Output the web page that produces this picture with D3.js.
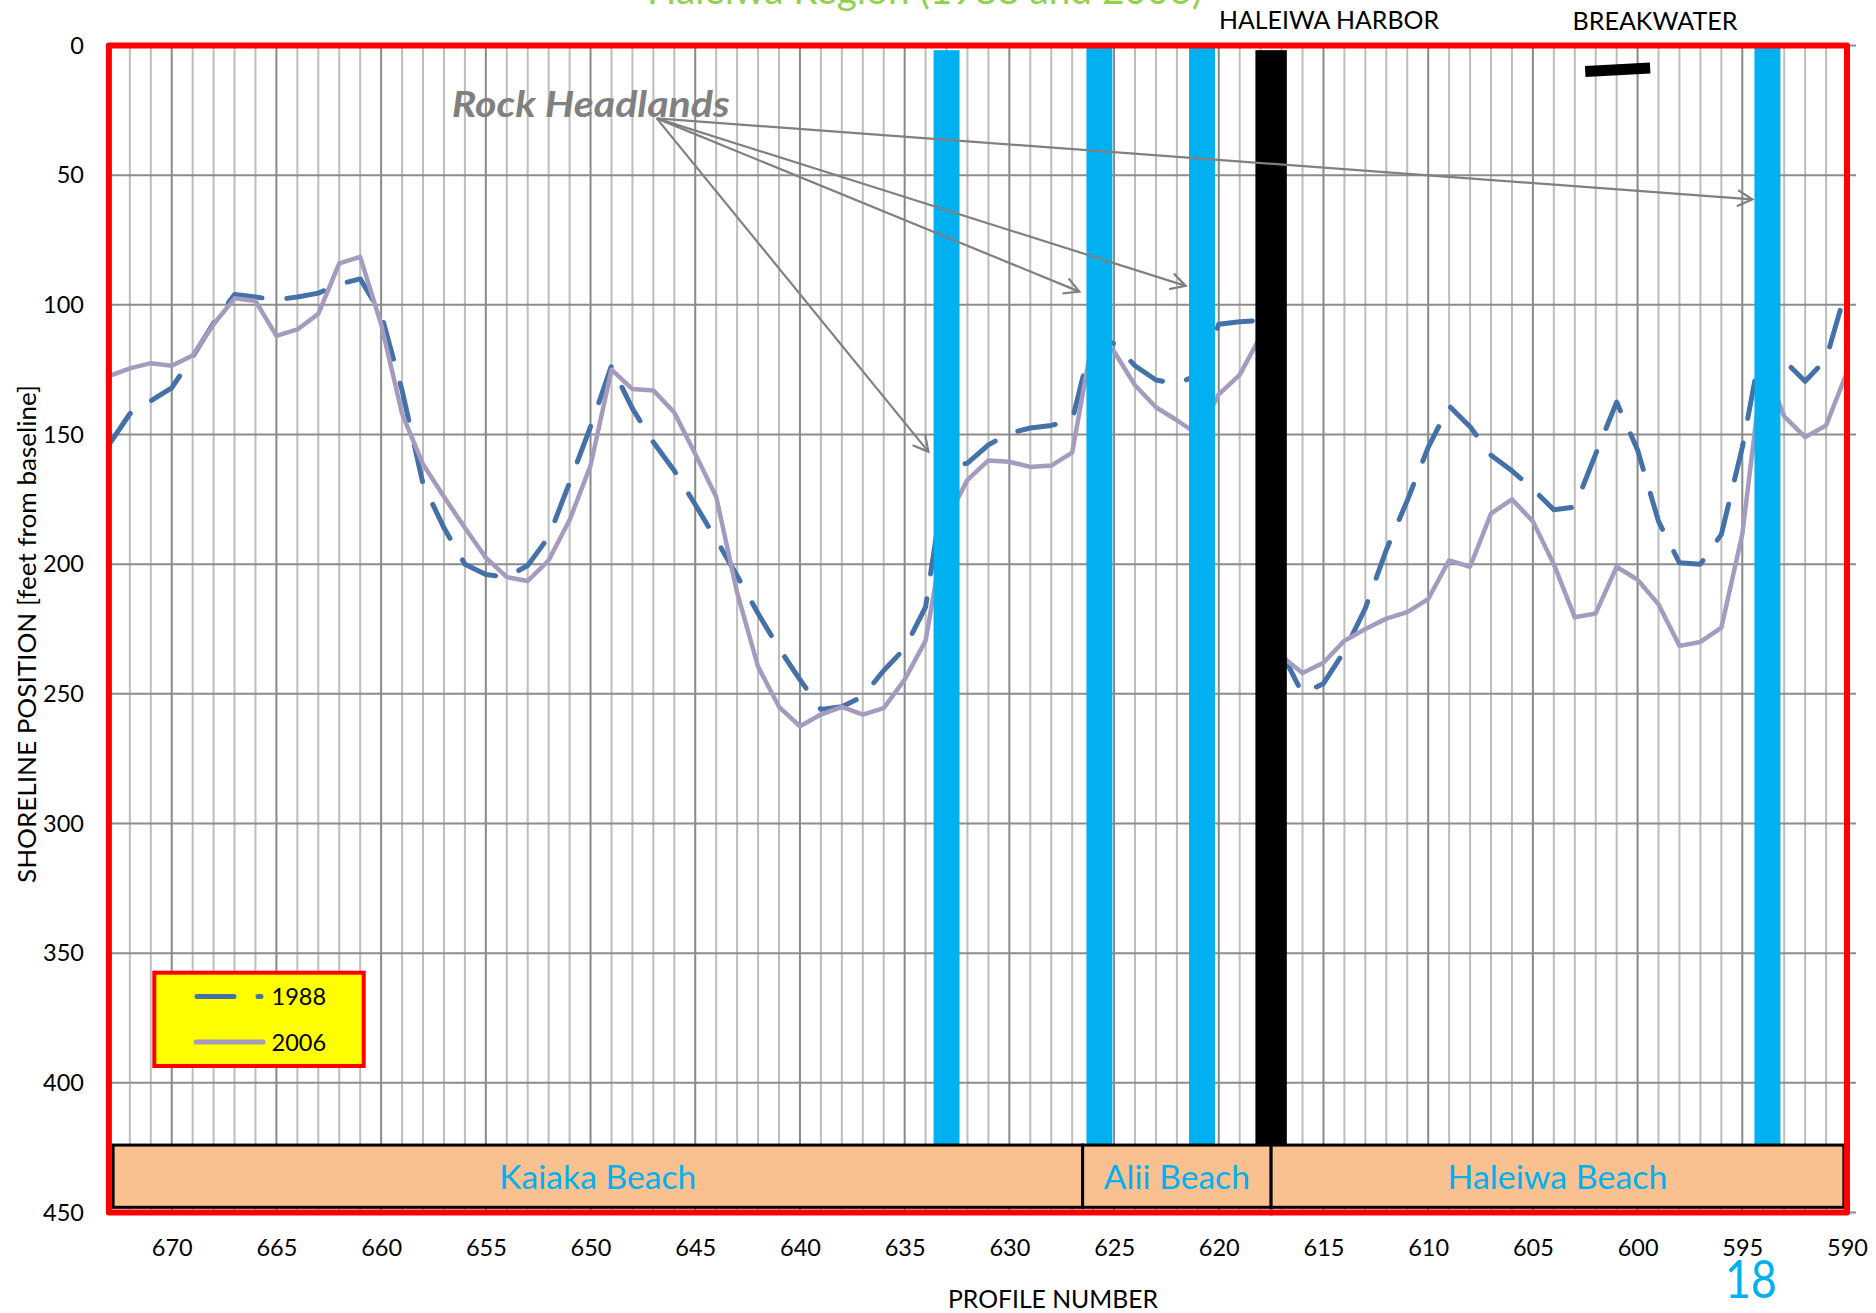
<!DOCTYPE html>
<html><head><meta charset="utf-8">
<script src="https://cdn.jsdelivr.net/npm/d3@7"></script>
<style>
body{margin:0;background:#fff}
svg{display:block}
text{font-family:Lato,"Open Sans","Liberation Sans",sans-serif}
</style>
</head><body>
<svg id="chart" width="1876" height="1313"></svg>
<script>
// ---------------- data ----------------
const profiles = d3.range(673, 589, -1); // 673 ... 590
const shoreline1988 = [
  154, 142, 137, 132, 120, 107, 96, 97, 98, 97,          // 673-664
  95.5, 92, 90, 103.5, 133, 169, 186, 200, 204, 205,     // 663-654
  200.5, 189.5, 168.5, 147, 123.5, 140, 153, 164, 177, 190.5, // 653-644
  204.5, 219, 232.5, 244.5, 256, 255, 251, 241, 232.5, 216.5, // 643-634
  163, 161, 154, 149.5, 147.5, 146.5, 144.5, 112, 115, 123.5, // 633-624
  129, 130.5, 127, 107.5, 106.5, 106, 234, 250, 246, 233.5,   // 623-614
  217, 194.5, 175.5, 155, 139, 147, 158, 164, 171, 179,       // 613-604
  178, 157.5, 137.5, 156, 183.5, 199.5, 200, 188.5, 155, 112, // 603-594
  121.5, 129.5, 121, 93                                       // 593-590
];
const shoreline2006 = [
  127.5, 124.5, 122.5, 123.5, 119.5, 107.5, 97.5, 98.5, 112, 109.5, // 673-664
  103.5, 84, 81.5, 107.5, 142, 161.5, 174, 186, 197.5, 205,         // 663-654
  206.5, 198.5, 183, 162, 125, 132.5, 133, 141.5, 157.5, 174,       // 653-644
  211, 239.5, 255, 262.5, 258, 255, 258, 255.5, 244.5, 229.5,       // 643-634
  183, 167.5, 160, 160.5, 162.5, 162, 157, 112, 118, 131,           // 633-624
  139.5, 144.5, 150, 134.5, 127, 112, 235.5, 242, 238, 229.5,       // 623-614
  225, 221, 218.5, 213.5, 198.5, 201, 180.5, 175, 183.5, 200,       // 613-604
  220.5, 219, 201, 206, 215.5, 231.5, 230, 224.5, 188.5, 122,       // 603-594
  143, 151, 146.5, 126                                              // 593-590
];
const seriesNames = ["1988", "2006"];
const xTickValues = d3.range(670, 589, -5);
const yTickValues = d3.range(0, 451, 50);
const headlandProfiles = [633, 625.7, 620.8, 593.8];
const headlandTops = [1.8, 0.9, 0, 0];
const harborProfile = [617.5];
const harborTop = [1.8];
const beachNames = ["Kaiaka Beach", "Alii Beach", "Haleiwa Beach"];
const beachFrom = [672.8, 626.5, 617.5];
const beachTo = [626.5, 617.5, 590.15];
const beachBand = [424, 448]; // shoreline-position range of the beach band
const arrowOrigin = [646.84, 28.1];
const arrowTargets = [[633.87, 156.6], [626.66, 94.9], [621.58, 92.7], [594.52, 59.3]];
const breakwaterProfiles = [602.5, 599.4];
const breakwaterPositions = [10, 8.7];

// ---------------- layout ----------------
const svg = d3.select("#chart");
const x = d3.scaleLinear().domain([673, 590]).range([108.9, 1847]);
const y = d3.scaleLinear().domain([0, 450]).range([45.5, 1212.5]);
const RED = "#FF0000", BLUE = "#00B0F0";
const C1988 = "#4471A8", C2006 = "#A59BBE";

// gridlines
const grid = svg.append("g");
grid.selectAll("line.vminor").data(profiles.filter(p => p % 5 !== 0)).join("line")
  .attr("x1", d => x(d)).attr("x2", d => x(d)).attr("y1", y(0)).attr("y2", y(450))
  .attr("stroke", "#BDBDBD").attr("stroke-width", 2);
grid.selectAll("line.vmajor").data(profiles.filter(p => p % 5 === 0)).join("line")
  .attr("x1", d => x(d)).attr("x2", d => x(d)).attr("y1", y(0)).attr("y2", y(450))
  .attr("stroke", "#898989").attr("stroke-width", 2);
grid.selectAll("line.h").data(yTickValues).join("line")
  .attr("x1", x(673)).attr("x2", x(590) + 9).attr("y1", d => y(d)).attr("y2", d => y(d))
  .attr("stroke", "#8C8C8C").attr("stroke-width", 2);

// series lines
const lineGen = d3.line().x((d, i) => x(profiles[i])).y(d => y(d));
svg.append("path").datum(shoreline1988).attr("d", lineGen)
  .attr("fill", "none").attr("stroke", C1988).attr("stroke-width", 5)
  .attr("stroke-dasharray", "38 25").attr("stroke-linecap", "round").attr("stroke-linejoin", "round");
svg.append("path").datum(shoreline2006).attr("d", lineGen)
  .attr("fill", "none").attr("stroke", C2006).attr("stroke-width", 4.5)
  .attr("stroke-linejoin", "round");

// headland bars and harbor
const barW = 1.24, harborW = 1.5;
svg.selectAll("rect.headland").data(headlandProfiles).join("rect")
  .attr("x", d => x(d + barW / 2)).attr("width", x(0) - x(barW))
  .attr("y", (d, i) => y(headlandTops[i])).attr("height", (d, i) => y(beachBand[0]) - y(headlandTops[i]))
  .attr("fill", BLUE);
svg.selectAll("rect.harbor").data(harborProfile).join("rect")
  .attr("x", d => x(d + harborW / 2)).attr("width", x(0) - x(harborW))
  .attr("y", (d, i) => y(harborTop[i])).attr("height", (d, i) => y(beachBand[0]) - y(harborTop[i]))
  .attr("fill", "#000");
svg.selectAll("rect.harbortick").data(harborProfile).join("rect")
  .attr("x", d => x(d) - 1.5).attr("width", 3)
  .attr("y", y(beachBand[1])).attr("height", y(450) - y(beachBand[1]) + 3)
  .attr("fill", BLUE);

// breakwater
svg.append("line")
  .attr("x1", x(breakwaterProfiles[0])).attr("y1", y(breakwaterPositions[0]))
  .attr("x2", x(breakwaterProfiles[1])).attr("y2", y(breakwaterPositions[1]))
  .attr("stroke", "#000").attr("stroke-width", 11);

// beach band
const band = svg.append("g");
band.selectAll("rect").data(beachNames).join("rect")
  .attr("x", (d, i) => x(beachFrom[i])).attr("width", (d, i) => x(beachTo[i]) - x(beachFrom[i]))
  .attr("y", y(beachBand[0])).attr("height", y(beachBand[1]) - y(beachBand[0]))
  .attr("fill", "#F9C090").attr("stroke", "#000").attr("stroke-width", 3);
const beachTextW = [197, 146, 220];
band.selectAll("text").data(beachNames).join("text")
  .attr("x", (d, i) => (x(beachFrom[i]) + x(beachTo[i])) / 2)
  .attr("y", y(beachBand[0]) + 44)
  .attr("text-anchor", "middle").attr("font-size", 33).attr("fill", BLUE)
  .attr("textLength", (d, i) => beachTextW[i]).attr("lengthAdjust", "spacingAndGlyphs")
  .text(d => d);

// rock headlands annotation
const ann = svg.append("g");
ann.append("text").attr("x", x(656.63)).attr("y", y(27.4))
  .attr("font-size", 36).attr("font-weight", "bold").attr("font-style", "italic")
  .attr("fill", "#808080").attr("textLength", 278).attr("lengthAdjust", "spacingAndGlyphs")
  .text("Rock Headlands");
arrowTargets.forEach(t => {
  const x0 = x(arrowOrigin[0]), y0 = y(arrowOrigin[1]), x1 = x(t[0]), y1 = y(t[1]);
  ann.append("line").attr("x1", x0).attr("y1", y0).attr("x2", x1).attr("y2", y1)
    .attr("stroke", "#808080").attr("stroke-width", 2.2);
  const ang = Math.atan2(y1 - y0, x1 - x0), L = 17;
  const a1 = ang + Math.PI - 0.5, a2 = ang + Math.PI + 0.5;
  ann.append("path")
    .attr("d", `M${x1 + L * Math.cos(a1)},${y1 + L * Math.sin(a1)}L${x1},${y1}L${x1 + L * Math.cos(a2)},${y1 + L * Math.sin(a2)}`)
    .attr("fill", "none").attr("stroke", "#808080").attr("stroke-width", 2.2);
});

// legend
const lg = svg.append("g");
lg.append("rect").attr("x", 154.3).attr("y", 972.7).attr("width", 209.4).attr("height", 93.3)
  .attr("fill", "#FFFF00").attr("stroke", RED).attr("stroke-width", 4);
lg.append("line").attr("x1", 197).attr("x2", 261).attr("y1", 996.6).attr("y2", 996.6)
  .attr("stroke", C1988).attr("stroke-width", 5).attr("stroke-dasharray", "37 24").attr("stroke-linecap", "round");
lg.append("line").attr("x1", 196).attr("x2", 263).attr("y1", 1042).attr("y2", 1042)
  .attr("stroke", C2006).attr("stroke-width", 5).attr("stroke-linecap", "round");
lg.selectAll("text").data(seriesNames).join("text")
  .attr("x", 271.5).attr("y", (d, i) => 1005 + i * 45.5)
  .attr("font-size", 23.5).attr("fill", "#000").text(d => d);

// plot border
svg.append("rect").attr("x", x(673)).attr("y", y(0)).attr("width", x(590) - x(673)).attr("height", y(450) - y(0))
  .attr("fill", "none").attr("stroke", RED).attr("stroke-width", 6).attr("stroke-linejoin", "round");

// axes
const xAxis = svg.append("g").attr("transform", `translate(0,${y(450)})`)
  .call(d3.axisBottom(x).tickValues(xTickValues).tickSize(0).tickPadding(27).tickFormat(d3.format("d")));
xAxis.select(".domain").remove();
xAxis.selectAll("text").attr("font-size", 23.5).attr("fill", "#000").style("font-family", "Lato");
const yAxis = svg.append("g").attr("transform", `translate(${x(673)},0)`)
  .call(d3.axisLeft(y).tickValues(yTickValues).tickSize(0).tickPadding(25));
yAxis.select(".domain").remove();
yAxis.selectAll("text").attr("font-size", 23.5).attr("fill", "#000").style("font-family", "Lato");

// titles and labels
svg.append("text").attr("x", 647).attr("y", 3.5).attr("font-size", 38.5).attr("fill", "#92D050")
  .attr("textLength", 555).attr("lengthAdjust", "spacingAndGlyphs").text("Haleiwa Region (1988 and 2006)");
svg.append("text").attr("x", 1329).attr("y", 29).attr("text-anchor", "middle").attr("font-size", 25)
  .attr("textLength", 220).attr("lengthAdjust", "spacingAndGlyphs").text("HALEIWA HARBOR");
svg.append("text").attr("x", 1655).attr("y", 29.5).attr("text-anchor", "middle").attr("font-size", 25)
  .attr("textLength", 165).attr("lengthAdjust", "spacingAndGlyphs").text("BREAKWATER");
svg.append("text").attr("x", 1053).attr("y", 1308).attr("text-anchor", "middle").attr("font-size", 25)
  .attr("textLength", 210).attr("lengthAdjust", "spacingAndGlyphs").text("PROFILE NUMBER");
svg.append("text").attr("transform", "translate(36,634) rotate(-90)").attr("text-anchor", "middle")
  .attr("font-size", 25).attr("textLength", 498).attr("lengthAdjust", "spacingAndGlyphs")
  .text("SHORELINE POSITION [feet from baseline]");
svg.append("text").attr("x", 1751).attr("y", 1298).attr("text-anchor", "middle").attr("font-size", 52)
  .attr("fill", BLUE).attr("textLength", 52).attr("lengthAdjust", "spacingAndGlyphs").text("18");
</script>
</body></html>
